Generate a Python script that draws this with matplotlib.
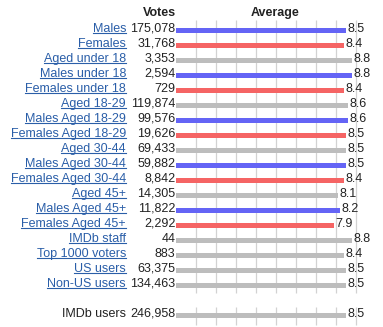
import matplotlib
matplotlib.use('Agg')
import matplotlib.pyplot as plt
from matplotlib.lines import Line2D

plt.rcParams['font.family'] = ['Liberation Sans', 'DejaVu Sans']

# data
names = ['Males', 'Females', 'Aged under 18', 'Males under 18', 'Females under 18',
         'Aged 18-29', 'Males Aged 18-29', 'Females Aged 18-29', 'Aged 30-44',
         'Males Aged 30-44', 'Females Aged 30-44', 'Aged 45+', 'Males Aged 45+',
         'Females Aged 45+', 'IMDb staff', 'Top 1000 voters', 'US users', 'Non-US users']
votes = [175078, 31768, 3353, 2594, 729, 119874, 99576, 19626, 69433, 59882,
         8842, 14305, 11822, 2292, 44, 883, 63375, 134463]
averages = [8.5, 8.4, 8.8, 8.8, 8.4, 8.6, 8.6, 8.5, 8.5, 8.5, 8.4, 8.1, 8.2,
            7.9, 8.8, 8.4, 8.5, 8.5]
groups = ['m', 'f', 'a', 'm', 'f', 'a', 'm', 'f', 'a', 'm', 'f', 'a', 'm', 'f',
          'a', 'a', 'a', 'a']
total_name = 'IMDb users'
total_votes = 246958
total_avg = 8.5

colors = {'m': '#6464f5', 'f': '#f56464', 'a': '#bdbdbd'}
link_col = '#2a5ea8'
txt_col = '#222222'

W, H = 383, 327
fig = plt.figure(figsize=(W / 100, H / 100), dpi=100)
# axis: x in rating units (20 px per point, starting at px 176), y in rows (15 px each)
x0, unit = 176, 20
ax = fig.add_axes([x0 / W, 0, 10 * unit / W, 1])
row0, rowh = 30.5, 15
ax.set_xlim(0, 10)
ax.set_ylim((H - row0) / rowh, -row0 / rowh)
ax.axis('off')

n = len(names)
total_row = n + 1
ypos = list(range(n))

# grid lines
ax.vlines(range(1, 10), -0.7, n - 0.5, color='#d2d2d2', lw=0.9, zorder=0)
ax.vlines(range(1, 10), total_row - 0.55, total_row + 0.6, color='#d2d2d2', lw=0.9, zorder=0)

ax.barh(ypos, averages, height=0.34, color=[colors[g] for g in groups], zorder=2)
ax.barh([total_row], [total_avg], height=0.34, color=colors['a'], zorder=2)

fs = 9
off = -0.12
name_x = -2.5
name_texts = []
for y, nm, v, a in zip(ypos, names, votes, averages):
    t = ax.text(name_x, y + off, nm, ha='right', va='center', fontsize=fs, color=link_col)
    name_texts.append(t)
    ax.text(-0.02, y + off, f'{v:,}', ha='right', va='center', fontsize=fs, color=txt_col)
    ax.text(a + 0.08, y + off, f'{a:.1f}', ha='left', va='center', fontsize=fs, color=txt_col)

ax.text(name_x, total_row + off, total_name, ha='right', va='center', fontsize=fs, color=txt_col)
ax.text(-0.02, total_row + off, f'{total_votes:,}', ha='right', va='center', fontsize=fs, color=txt_col)
ax.text(total_avg + 0.08, total_row + off, f'{total_avg:.1f}', ha='left', va='center', fontsize=fs, color=txt_col)

# headers
ax.text(-0.02, -1.17, 'Votes', ha='right', va='center', fontsize=fs, fontweight='bold', color=txt_col)
ax.text(4.95, -1.17, 'Average', ha='center', va='center', fontsize=fs, fontweight='bold', color=txt_col)

# underline the link labels
fig.canvas.draw()
r = fig.canvas.get_renderer()
for t in name_texts:
    bb = t.get_window_extent(r)
    yy = bb.y0 + 1.5
    fig.add_artist(Line2D([bb.x0, bb.x1], [yy, yy], transform=None, color=link_col, lw=0.8))

fig.savefig('out.png', dpi=100)
